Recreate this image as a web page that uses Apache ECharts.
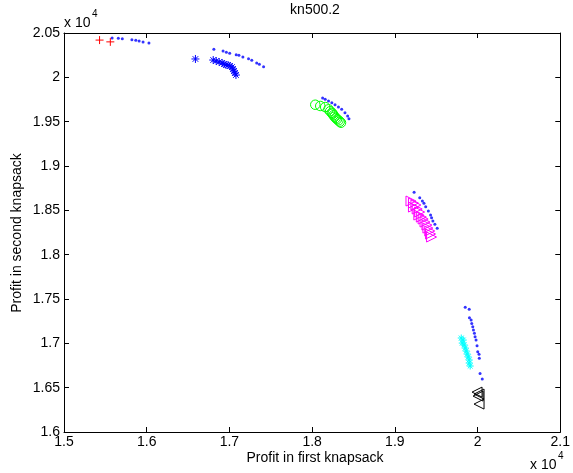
<!DOCTYPE html>
<html>
<head>
<meta charset="utf-8">
<title>kn500.2</title>
<script src="https://cdn.jsdelivr.net/npm/echarts@6/dist/echarts.min.js"></script>
<style>
  html, body { margin: 0; padding: 0; background: #fff; }
  #chart { width: 573px; height: 473px; }
</style>
</head>
<body>
<div id="chart"></div>
<script>
// Axis ticks (raw profit values; labels are shown in units of 10^4)
const xTicks = [15000, 16000, 17000, 18000, 19000, 20000, 21000];
const yTicks = [16000, 16500, 17000, 17500, 18000, 18500, 19000, 19500, 20000, 20500];

// Non-dominated fronts (profit in knapsack 1, profit in knapsack 2)
const redPlusX = [15430, 15560];
const redPlusY = [20420, 20400];

const blueStarX = [16589, 16804, 16840, 16876, 16912, 16935, 16959, 16983, 17007, 17031, 17043, 17055, 17067, 17079];
const blueStarY = [20207, 20195, 20184, 20173, 20162, 20150, 20139, 20139, 20128, 20116, 20094, 20071, 20049, 20026];

const greenCircleX = [18038, 18098, 18158, 18198, 18218, 18238, 18248, 18258, 18272, 18286, 18300, 18318, 18334, 18349];
const greenCircleY = [19691, 19677, 19665, 19639, 19617, 19600, 19590, 19572, 19556, 19541, 19528, 19515, 19500, 19488];

const magentaTriX = [19195, 19225, 19255, 19225, 19270, 19300, 19290, 19320, 19342, 19365, 19388, 19400, 19422, 19432, 19444];
const magentaTriY = [18605, 18582, 18560, 18537, 18515, 18481, 18447, 18424, 18402, 18368, 18334, 18300, 18267, 18233, 18199];

const cyanStarX = [19803, 19827, 19815, 19839, 19851, 19863, 19875, 19887, 19899, 19899, 19911];
const cyanStarY = [17060, 17037, 17003, 16981, 16947, 16913, 16879, 16846, 16812, 16778, 16744];

const blackTriX = [19994, 20018, 20006, 20018];
const blackTriY = [16450, 16428, 16405, 16315];

// Reference front (blue dots)
const blueDotX = [
  15582, 15657, 15705, 15821, 15868, 15908, 15956, 16027,
  16812, 16923, 16963, 17003, 17082, 17115, 17163, 17231, 17270, 17330, 17362, 17413,
  18127, 18158, 18198, 18238, 18277, 18318, 18357, 18397, 18429, 18445,
  19233, 19301, 19333, 19352, 19373, 19405, 19432, 19444, 19460, 19484, 19512,
  19851, 19899, 19902, 19922, 19930, 19942, 19950, 19962, 19970, 19982, 19994, 20002, 20018, 20021, 20030, 20057
];
const blueDotY = [
  20444, 20440, 20436, 20424, 20418, 20410, 20398, 20387,
  20316, 20297, 20282, 20271, 20255, 20248, 20229, 20210, 20192, 20162, 20147, 20120,
  19767, 19752, 19733, 19714, 19691, 19665, 19639, 19601, 19564, 19533,
  18703, 18642, 18605, 18579, 18541, 18492, 18447, 18417, 18379, 18342, 18297,
  17406, 17383, 17289, 17263, 17225, 17187, 17150, 17113, 17074, 17037, 16973, 16905, 16876, 16831, 16661, 16597
];

function pairs(xs, ys) { return xs.map((x, i) => [x, ys[i]]); }

const PLUS = 'path://M5,0L5,10M0,5L10,5';
const ASTERISK = 'path://M5,0L5,10M0,5L10,5M1.5,1.5L8.5,8.5M1.5,8.5L8.5,1.5';
const TRI_RIGHT = 'path://M0,0L10,5L0,10Z';
const TRI_LEFT = 'path://M10,0L0,5L10,10Z';

const FONT = 'Liberation Sans, Arial, Helvetica, sans-serif';
const FS = 14;
const fmt = v => String(+(v / 10000).toFixed(2));

function outlined(name, data, symbol, size, color) {
  return {
    name, type: 'scatter', data, symbol, symbolSize: size, silent: true,
    itemStyle: { color: 'none', borderColor: color, borderWidth: 1, opacity: 1 },
    z: 3
  };
}

const chart = echarts.init(document.getElementById('chart'), null, { renderer: 'canvas' });

const plainAxis = {
  axisLine: { show: true, onZero: false, lineStyle: { color: '#000', width: 1 } },
  axisTick: { show: true, inside: true, length: 5, lineStyle: { color: '#000', width: 1 } },
  splitLine: { show: false }
};

chart.setOption({
  animation: false,
  backgroundColor: '#fff',
  grid: { left: 64, right: 7, top: 33, bottom: 41, containLabel: false },
  xAxis: [
    Object.assign({
      type: 'value', position: 'bottom', min: xTicks[0], max: xTicks[xTicks.length - 1], interval: 1000,
      axisLabel: { show: true, formatter: fmt, color: '#000', fontSize: FS, fontFamily: FONT, margin: 3 }
    }, plainAxis),
    Object.assign({
      type: 'value', position: 'top', min: xTicks[0], max: xTicks[xTicks.length - 1], interval: 1000,
      axisLabel: { show: false }
    }, plainAxis)
  ],
  yAxis: [
    Object.assign({
      type: 'value', position: 'left', min: yTicks[0], max: yTicks[yTicks.length - 1], interval: 500,
      axisLabel: { show: true, formatter: fmt, color: '#000', fontSize: FS, fontFamily: FONT, margin: 4 }
    }, plainAxis),
    Object.assign({
      type: 'value', position: 'right', min: yTicks[0], max: yTicks[yTicks.length - 1], interval: 500,
      axisLabel: { show: false }
    }, plainAxis)
  ],
  series: [
    {
      name: 'reference', type: 'scatter', data: pairs(blueDotX, blueDotY),
      symbol: 'circle', symbolSize: 3, silent: true,
      itemStyle: { color: '#0000ff' }, z: 2
    },
    outlined('front 1', pairs(redPlusX, redPlusY), PLUS, 8, '#ff0000'),
    outlined('front 2', pairs(blueStarX, blueStarY), ASTERISK, 8, '#0000ff'),
    outlined('front 3', pairs(greenCircleX, greenCircleY), 'circle', 9.5, '#00ff00'),
    outlined('front 4', pairs(magentaTriX, magentaTriY), TRI_RIGHT, 10, '#ff00ff'),
    outlined('front 5', pairs(cyanStarX, cyanStarY), ASTERISK, 7, '#00ffff'),
    outlined('front 6', pairs(blackTriX, blackTriY), TRI_LEFT, 10, '#000000')
  ],
  graphic: [
    { type: 'text', x: 315, y: 10, style: { text: 'kn500.2', fill: '#000', font: FS + 'px ' + FONT, textAlign: 'center', textVerticalAlign: 'middle' } },
    { type: 'text', x: 64, y: 23, style: { text: 'x 10', fill: '#000', font: FS + 'px ' + FONT, textAlign: 'left', textVerticalAlign: 'middle' } },
    { type: 'text', x: 92, y: 14, style: { text: '4', fill: '#000', font: '10px ' + FONT, textAlign: 'left', textVerticalAlign: 'middle' } },
    { type: 'text', x: 530, y: 465, style: { text: 'x 10', fill: '#000', font: FS + 'px ' + FONT, textAlign: 'left', textVerticalAlign: 'middle' } },
    { type: 'text', x: 558, y: 456, style: { text: '4', fill: '#000', font: '10px ' + FONT, textAlign: 'left', textVerticalAlign: 'middle' } },
    { type: 'text', x: 315, y: 458, style: { text: 'Profit in first knapsack', fill: '#000', font: FS + 'px ' + FONT, textAlign: 'center', textVerticalAlign: 'middle' } },
    { type: 'text', x: 17, y: 233, rotation: Math.PI / 2, style: { text: 'Profit in second knapsack', fill: '#000', font: FS + 'px ' + FONT, textAlign: 'center', textVerticalAlign: 'middle' } }
  ]
});
</script>
</body>
</html>
